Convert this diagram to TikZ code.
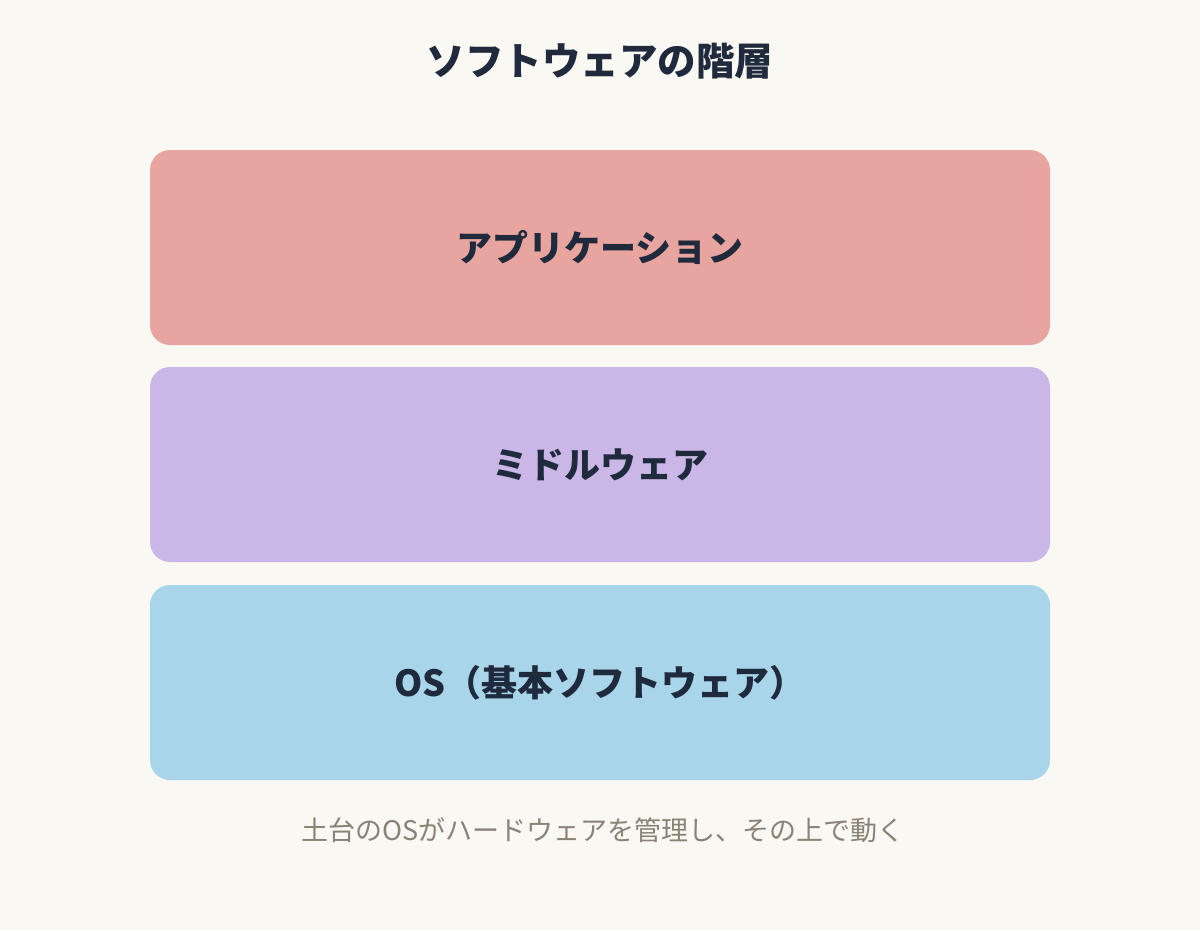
\documentclass[tikz,border=0pt]{standalone}
\usepackage{fontspec}
\newfontfamily\cjk{Noto Sans CJK JP}
\definecolor{bgcream}{HTML}{F9F8F3}
\definecolor{inkdark}{HTML}{1F2A3D}
\definecolor{inkgrey}{HTML}{8A8275}
\definecolor{layerapp}{HTML}{E8A49F}
\definecolor{layermid}{HTML}{CBB7E7}
\definecolor{layeros}{HTML}{A8D5EA}
\tikzset{
  layer/.style={rounded corners=20pt, minimum width=900pt, minimum height=195pt,
    inner sep=0pt, text=inkdark, font=\cjk\bfseries\fontsize{36}{42}\selectfont},
}
\begin{document}
\begin{tikzpicture}[x=1pt,y=-1pt]

\fill[bgcream] (0,0) rectangle (1200,930);
\useasboundingbox (0,0) rectangle (1200,930);

\node[text=inkdark, font=\cjk\bfseries\fontsize{38.5}{44}\selectfont] (title) at (600,61) {ソフトウェアの階層};

\node[layer, fill=layerapp] (app) at (600,247.5) {アプリケーション};
\node[layer, fill=layermid] (mid) at (600,464.5) {ミドルウェア};
\node[layer, fill=layeros]  (os)  at (600,682.5) {OS（基本ソフトウェア）};

\node[text=inkgrey, font=\cjk\fontsize{27}{32}\selectfont] (note) at (603,830) {土台のOSがハードウェアを管理し、その上で動く};

\end{tikzpicture}
\end{document}
